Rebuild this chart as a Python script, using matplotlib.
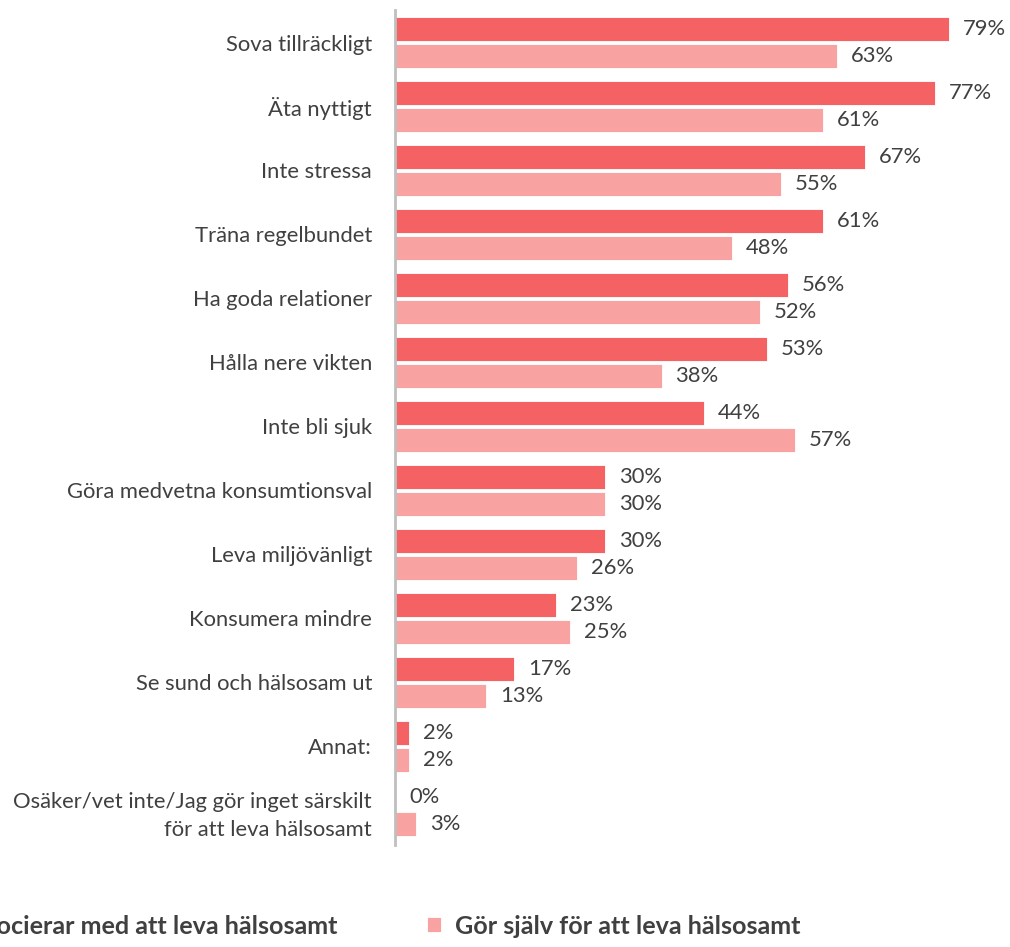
import matplotlib
matplotlib.use("Agg")
import matplotlib.pyplot as plt
import numpy as np

# Survey data: share of respondents (%)
categories = [
    "Sova tillräckligt",
    "Äta nyttigt",
    "Inte stressa",
    "Träna regelbundet",
    "Ha goda relationer",
    "Hålla nere vikten",
    "Inte bli sjuk",
    "Göra medvetna konsumtionsval",
    "Leva miljövänligt",
    "Konsumera mindre",
    "Se sund och hälsosam ut",
    "Annat:",
    "Osäker/vet inte/Jag gör inget särskilt\nför att leva hälsosamt",
]
associates = [79, 77, 67, 61, 56, 53, 44, 30, 30, 23, 17, 2, 0]
does_self = [63, 61, 55, 48, 52, 38, 57, 30, 26, 25, 13, 2, 3]
series_names = ["Associerar med att leva hälsosamt", "Gör själv för att leva hälsosamt"]

RED = "#F46264"
PINK = "#F8A3A2"
TEXT = "#404040"
FS = 15.8

plt.rcParams["font.family"] = ["Lato", "DejaVu Sans"]

W, H = 1010, 947
fig = plt.figure(figsize=(W / 100, H / 100), dpi=100)
ax_left, ax_right = 395, 1008
ax_top, ax_bottom = 10, 845
ax = fig.add_axes([ax_left / W, 1 - ax_bottom / H,
                   (ax_right - ax_left) / W, (ax_bottom - ax_top) / H])

y = np.arange(len(categories))
bh = 0.375
off = 0.211
b1 = ax.barh(y - off, associates, height=bh, color=RED, edgecolor="white", linewidth=0.6)
b2 = ax.barh(y + off, does_self, height=bh, color=PINK, edgecolor="white", linewidth=0.6)

for bars, vals in ((b1, associates), (b2, does_self)):
    for rect, v in zip(bars, vals):
        ax.annotate(f"{v}%", xy=(v, rect.get_y() + rect.get_height() / 2),
                    xytext=(10, 0), textcoords="offset points",
                    ha="left", va="center", fontsize=FS, color=TEXT,
                    annotation_clip=False)

ax.set_xlim(0, 87.4)
ax.set_ylim(len(categories) - 0.46, -0.508)
ax.set_yticks(y)
ax.set_yticklabels(categories, fontsize=FS, color=TEXT, linespacing=1.45)
for lbl in ax.get_yticklabels():
    lbl.set_horizontalalignment("right")
ax.tick_params(axis="y", length=0, pad=16.5)
ax.set_xticks([])
for s in ("top", "right", "bottom"):
    ax.spines[s].set_visible(False)
ax.spines["left"].set_color("#BFBFBF")
ax.spines["left"].set_linewidth(2)

# Legend entries, placed in figure pixels
leg_y = 1 - 926 / H
LFS = 18.1
leg_kw = dict(frameon=False, handlelength=0.56, handleheight=0.56,
              handletextpad=0.56, borderpad=0, borderaxespad=0,
              prop={"weight": "bold", "size": LFS})
leg1 = fig.legend([b1], [series_names[0]], loc="center right",
                  bbox_to_anchor=(338 / W, leg_y), **leg_kw)
leg2 = fig.legend([b2], [series_names[1]], loc="center left",
                  bbox_to_anchor=(427 / W, leg_y), **leg_kw)
for leg in (leg1, leg2):
    for t in leg.get_texts():
        t.set_color(TEXT)

fig.savefig("out.png", dpi=100)
